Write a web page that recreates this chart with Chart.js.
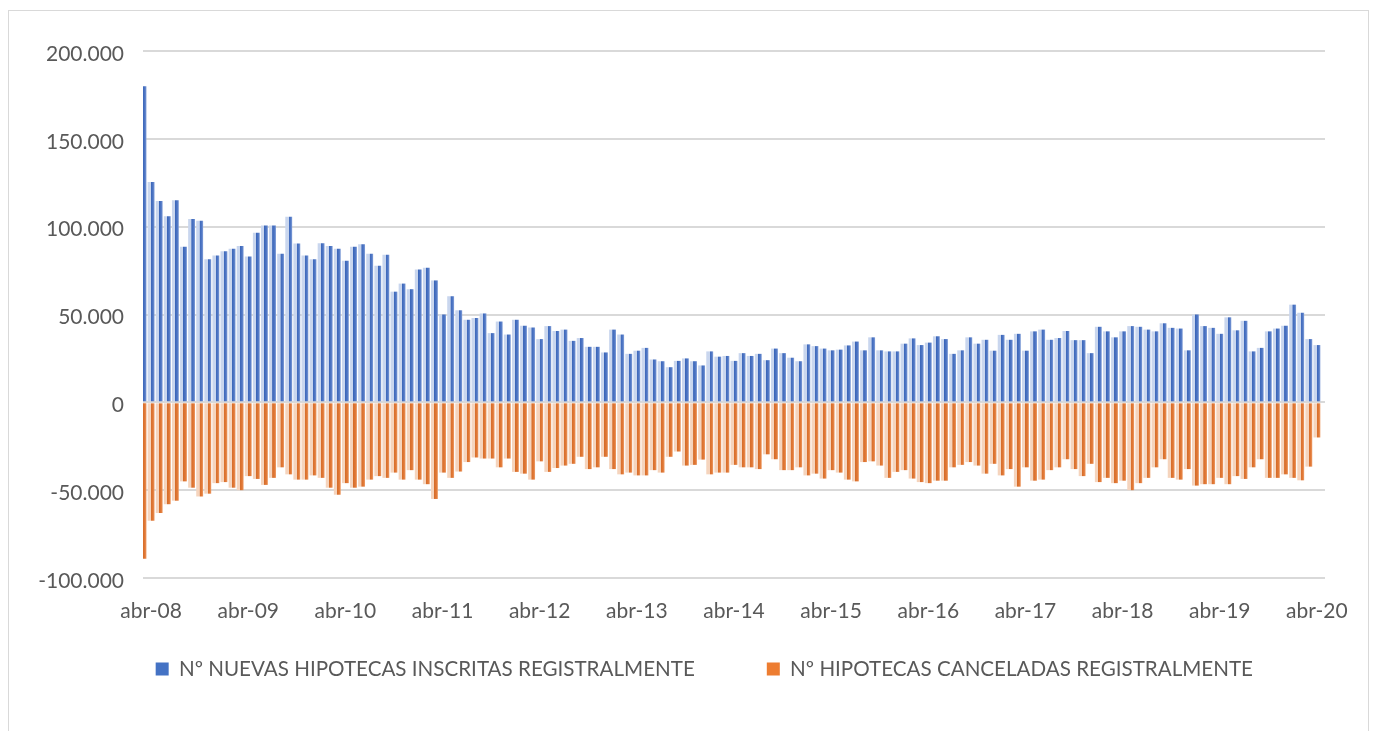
<!DOCTYPE html>
<html>
<head>
<meta charset="utf-8">
<script src="https://cdn.jsdelivr.net/npm/chart.js@4.4.1/dist/chart.umd.min.js"></script>
<style>
  html, body { margin: 0; padding: 0; background: #ffffff; }
  #wrap { position: relative; width: 1373px; height: 731px; overflow: hidden; }
  #frame { position: absolute; left: 8px; top: 10px; width: 1361px; height: 740px; border: 1px solid #d9d9d9; box-sizing: border-box; }
  #c { position: absolute; left: 0; top: 0; }
</style>
</head>
<body>
<div id="wrap">
  <div id="frame"></div>
  <canvas id="c" width="1373" height="731"></canvas>
</div>
<script>
// Category labels (monthly, Spanish abbreviations)
const LABELS = [
  'mar-08',
  'abr-08','may-08','jun-08','jul-08','ago-08','sep-08','oct-08','nov-08','dic-08','ene-09','feb-09','mar-09',
  'abr-09','may-09','jun-09','jul-09','ago-09','sep-09','oct-09','nov-09','dic-09','ene-10','feb-10','mar-10',
  'abr-10','may-10','jun-10','jul-10','ago-10','sep-10','oct-10','nov-10','dic-10','ene-11','feb-11','mar-11',
  'abr-11','may-11','jun-11','jul-11','ago-11','sep-11','oct-11','nov-11','dic-11','ene-12','feb-12','mar-12',
  'abr-12','may-12','jun-12','jul-12','ago-12','sep-12','oct-12','nov-12','dic-12','ene-13','feb-13','mar-13',
  'abr-13','may-13','jun-13','jul-13','ago-13','sep-13','oct-13','nov-13','dic-13','ene-14','feb-14','mar-14',
  'abr-14','may-14','jun-14','jul-14','ago-14','sep-14','oct-14','nov-14','dic-14','ene-15','feb-15','mar-15',
  'abr-15','may-15','jun-15','jul-15','ago-15','sep-15','oct-15','nov-15','dic-15','ene-16','feb-16','mar-16',
  'abr-16','may-16','jun-16','jul-16','ago-16','sep-16','oct-16','nov-16','dic-16','ene-17','feb-17','mar-17',
  'abr-17','may-17','jun-17','jul-17','ago-17','sep-17','oct-17','nov-17','dic-17','ene-18','feb-18','mar-18',
  'abr-18','may-18','jun-18','jul-18','ago-18','sep-18','oct-18','nov-18','dic-18','ene-19','feb-19','mar-19',
  'abr-19','may-19','jun-19','jul-19','ago-19','sep-19','oct-19','nov-19','dic-19','ene-20','feb-20','mar-20',
  'abr-20',
  'may-20'
];

// Tick labels shown on the category axis
const TICK_LABELS = ['abr-08','abr-09','abr-10','abr-11','abr-12','abr-13','abr-14','abr-15','abr-16','abr-17','abr-18','abr-19','abr-20'];

// Nº nuevas hipotecas inscritas registralmente
const NUEVAS = [
  180000,
  125400,114600,106000,115000,88600,104400,103400,81400,83600,86000,87400,89000,
  83000,96600,100600,100600,84600,105600,90400,83600,81400,90600,89000,87400,
  80600,88600,90000,84600,77800,84000,63000,67600,64400,75600,76600,69400,
  50000,60400,52400,47000,48000,50600,39400,46000,38600,47000,43600,42600,
  36000,43400,40600,41400,35000,36600,31600,31600,28400,41400,38600,27600,
  29400,31000,24400,23400,20000,23600,25000,23400,21000,29000,26000,26400,
  23600,28000,26400,27600,24000,30600,28000,25400,23400,33000,32000,30600,
  29600,30000,32400,34600,29600,37000,29600,29000,29000,33400,36400,32600,
  34000,37600,36000,27600,29600,37000,33400,35600,29400,38400,35600,39000,
  29400,40400,41400,35600,36600,40600,35400,35400,28000,43000,40400,37000,
  40400,43400,43000,41400,40400,45000,42400,42000,29600,50000,43400,42400,
  39000,48400,41000,46400,29000,31000,40400,42000,43600,55600,51000,36000,
  32600,
  null
];

// Nº hipotecas canceladas registralmente (shown as negative values)
const CANCELADAS = [
  -89000,
  -67400,-63000,-58000,-56000,-45000,-48600,-53600,-52000,-46000,-45400,-48600,-50000,
  -42000,-43600,-47000,-43000,-37000,-41000,-44000,-44000,-41600,-43000,-48600,-52600,
  -46000,-48600,-48000,-44000,-42000,-43000,-40000,-44000,-38600,-44000,-46600,-55000,
  -40000,-43000,-39400,-34000,-31400,-32000,-32000,-37000,-32000,-39600,-40600,-44000,
  -33600,-39600,-37400,-36000,-35000,-31000,-38000,-37000,-31000,-38000,-41000,-40000,
  -41600,-41600,-38600,-40000,-31000,-28000,-36000,-35600,-32600,-41000,-40000,-40000,
  -35600,-37000,-37000,-38000,-29600,-32400,-38600,-38600,-37000,-41600,-40600,-43400,
  -38600,-40000,-44000,-45000,-34000,-33600,-36000,-43000,-39600,-38600,-43400,-45400,
  -46000,-44600,-44600,-37000,-35600,-34000,-36000,-40600,-35000,-41600,-38000,-48000,
  -37000,-44600,-44000,-38600,-37000,-32400,-38000,-42000,-35000,-45400,-43000,-46000,
  -44600,-50000,-46000,-43000,-37000,-32400,-43000,-44000,-38000,-47400,-46600,-46600,
  -43000,-46600,-42000,-43600,-37000,-32400,-43000,-43000,-41000,-43000,-44400,-36600,
  -20000,
  null
];

const SERIES_NAMES = ['Nº NUEVAS HIPOTECAS INSCRITAS REGISTRALMENTE', 'Nº HIPOTECAS CANCELADAS REGISTRALMENTE'];
const SERIES_COLORS = ['#4472C4', '#ED7D31'];

const BAR_PCT = 0.85;
const TEXT_COLOR = '#595959';
const FONT = 'Lato, "Open Sans", sans-serif';

function barFill(solid, pale, dark, mid, light) {
  return (ctx) => {
    if (ctx.type !== 'data') return solid;
    const chart = ctx.chart;
    const xs = chart.scales && chart.scales.x;
    if (!xs || !chart.chartArea) return solid;
    const x = xs.getPixelForValue(ctx.dataIndex);
    const step = xs.width / (LABELS.length - 1);
    const w = step * BAR_PCT;
    const g = chart.ctx.createLinearGradient(x - w / 2, 0, x + w / 2, 0);
    g.addColorStop(0, pale);
    g.addColorStop(0.47, pale);
    g.addColorStop(0.5, dark);
    g.addColorStop(0.8, mid);
    g.addColorStop(1, light);
    return g;
  };
}

function fmt(v) {
  const s = String(Math.abs(v)).replace(/\B(?=(\d{3})+(?!\d))/g, '.');
  return (v < 0 ? '-' : '') + s;
}

new Chart(document.getElementById('c'), {
  type: 'bar',
  data: {
    labels: LABELS,
    datasets: [
      {
        label: SERIES_NAMES[0],
        data: NUEVAS,
        backgroundColor: barFill(SERIES_COLORS[0], '#c9d6ee', '#3b66b9', '#5279c6', '#86a2d9'),
        borderWidth: 0,
        categoryPercentage: 1,
        barPercentage: BAR_PCT,
        clip: 0
      },
      {
        label: SERIES_NAMES[1],
        data: CANCELADAS,
        backgroundColor: barFill(SERIES_COLORS[1], '#f5d4bd', '#d66d2a', '#e27a38', '#eea06c'),
        borderWidth: 0,
        categoryPercentage: 1,
        barPercentage: BAR_PCT,
        clip: 0
      }
    ]
  },
  options: {
    responsive: false,
    animation: false,
    events: [],
    layout: { padding: { left: 0, right: 48, top: 51, bottom: 41.7 } },
    scales: {
      x: {
        stacked: true,
        offset: false,
        grid: { display: false, drawTicks: false },
        border: { display: false },
        ticks: {
          autoSkip: false,
          maxRotation: 0,
          minRotation: 0,
          mirror: true,
          padding: -45.6,
          color: TEXT_COLOR,
          font: { family: FONT, size: 21 },
          callback: function (value, index) {
            const l = LABELS[index];
            return TICK_LABELS.includes(l) ? l : '';
          }
        },
        afterFit: function (scale) { scale.height = 8.7; }
      },
      y: {
        stacked: true,
        min: -100000,
        max: 200000,
        grid: { color: '#d9d9d9', lineWidth: 2, drawTicks: false },
        border: { display: false },
        ticks: {
          stepSize: 50000,
          padding: 19,
          labelOffset: 3,
          color: TEXT_COLOR,
          font: { family: FONT, size: 21 },
          callback: function (v) { return fmt(v); }
        },
        afterFit: function (scale) { scale.width = 143; }
      }
    },
    plugins: {
      tooltip: { enabled: false },
      legend: {
        position: 'bottom',
        align: 'end',
        labels: {
          color: TEXT_COLOR,
          font: { family: FONT, size: 20.6 },
          boxWidth: 13,
          boxHeight: 13,
          padding: 72,
          generateLabels: function (chart) {
            const items = Chart.defaults.plugins.legend.labels.generateLabels(chart);
            items.forEach(function (it, i) {
              it.fillStyle = SERIES_COLORS[i];
              it.strokeStyle = SERIES_COLORS[i];
              it.lineWidth = 0;
            });
            return items;
          }
        }
      }
    }
  }
});
</script>
</body>
</html>
